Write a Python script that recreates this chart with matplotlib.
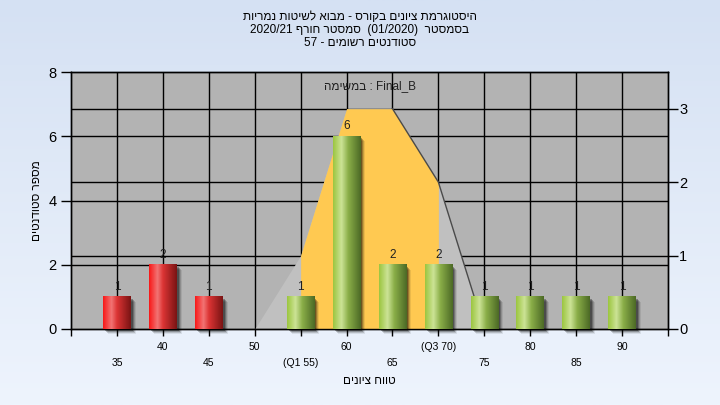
import numpy as np
import matplotlib
matplotlib.use('Agg')
import matplotlib.pyplot as plt
from matplotlib.colors import LinearSegmentedColormap
from matplotlib.patches import Rectangle
from matplotlib import transforms

plt.rcParams['font.family'] = ['Liberation Sans', 'DejaVu Sans']

# histogram data
grades = [35, 40, 45, 50, 55, 60, 65, 70, 75, 80, 85, 90]
counts = [1, 2, 1, 0, 1, 6, 2, 2, 1, 1, 1, 1]
pass_grade = 50

# distribution curve (right axis)
curve_x = [50, 55, 60, 65, 70, 75]
curve_y = [0, 1, 3, 3, 2, 0]
q1, q3 = 55, 70

row1_ticks = [40, 50, 60, 70, 80, 90]
row1_labels = ['40', '50', '60', '(Q3 70)', '80', '90']
row2_ticks = [35, 45, 55, 65, 75, 85]
row2_labels = ['35', '45', '(Q1 55)', '65', '75', '85']


def heb(s):
    # matplotlib has no bidi, so hebrew runs are given in visual order
    return s[::-1]


title1 = heb('היסטוגרמת ציונים בקורס - מבוא לשיטות נמריות')
title2 = '2020/21 ' + heb('סמסטר חורף') + '  (01/2020)  ' + heb('בסמסטר')
title3 = '57 - ' + heb('סטודנטים רשומים')
legend_text = heb('במשימה') + ' : Final_B'
xlabel = heb('טווח ציונים')
ylabel = heb('מספר סטודנטים')

fig = plt.figure(figsize=(7.2, 4.05), dpi=100)

# background gradient
bg = fig.add_axes([0, 0, 1, 1], zorder=-10)
bg_cmap = LinearSegmentedColormap.from_list('bg', ['#d5e1f3', '#eef4fd'])
bg.imshow(np.linspace(0, 1, 256).reshape(-1, 1), aspect='auto', cmap=bg_cmap,
          extent=[0, 1, 0, 1])
bg.axis('off')

ax = fig.add_axes([71 / 720, 1 - 329 / 405, 597 / 720, 257 / 405])
ax2 = ax.twinx()
ax.set_zorder(ax2.get_zorder() + 1)
ax.patch.set_visible(False)
ax2.patch.set_visible(True)
ax2.patch.set_facecolor('#b3b3b3')

ax.set_xlim(30, 95)
ax.set_ylim(0, 8)
ax2.set_ylim(0, 3.5)

# grid under the curve
ax2.vlines(grades, 0, 3.5, color='black', lw=1, zorder=1)
ax2.hlines([1, 2, 3], 30, 95, color='black', lw=1, zorder=1)
ax2.hlines([2, 4, 6], 30, 95, color='black', lw=1, zorder=1, transform=ax.transData)

cx = np.array(curve_x)
cy = np.array(curve_y)
ax2.fill_between(cx, cy, color='#c0c0c0', lw=0, zorder=2)
ax2.fill_between(cx, cy, where=(cx >= q1) & (cx <= q3), color='#ffc951', lw=0, zorder=3)
ax2.plot(cx[cx >= 65], cy[cx >= 65], color='#4a4a4a', lw=1, zorder=4)
ax2.set_ylim(0, 3.5)

red_cmap = LinearSegmentedColormap.from_list(
    'r', [(0, '#f81818'), (0.3, '#f27474'), (0.5, '#dc3434'), (1, '#7a1414')])
green_cmap = LinearSegmentedColormap.from_list(
    'g', [(0, '#9cc640'), (0.3, '#cce396'), (0.55, '#8aae48'), (1, '#4c6a26')])
grad = np.linspace(0, 1, 64).reshape(1, -1)

width = 3
for g, c in zip(grades, counts):
    if c == 0:
        continue
    x0 = g - width / 2
    for k, a in [(2, 0.3), (3, 0.22), (4, 0.15), (5, 0.08)]:
        tr = transforms.offset_copy(ax.transData, fig=fig, x=k, y=-k, units='dots')
        ax.add_patch(Rectangle((x0, 0), width, c, transform=tr, color='black',
                               alpha=a, lw=0, zorder=2, clip_on=False))
    cmap = red_cmap if g < pass_grade else green_cmap
    ax.imshow(grad, cmap=cmap, aspect='auto', extent=[x0, x0 + width, 0, c],
              zorder=3, interpolation='bilinear')
    ax.annotate(str(c), (g, c), xytext=(0, 3), textcoords='offset points',
                ha='center', va='bottom', fontsize=8.5, color='#202020', zorder=5)

ax.set_xlim(30, 95)
ax.set_ylim(0, 8)

ax.text(0.5, 0.945, legend_text, transform=ax.transAxes, ha='center', va='center',
        fontsize=8.5, color='#202020')

# ticks
ax.set_yticks([0, 2, 4, 6, 8])
ax.tick_params(axis='y', labelsize=10.5, length=7, width=1, colors='black')
ax2.set_yticks([0, 1, 2, 3])
ax2.tick_params(axis='y', labelsize=10.5, length=7, width=1, colors='black', pad=1)
ax.set_xticks([30] + row1_ticks + [95])
ax.set_xticklabels([''] + row1_labels + [''])
ax.set_xticks(row2_ticks, minor=True)
ax.set_xticklabels(row2_labels, minor=True)
ax.tick_params(axis='x', which='major', labelsize=7.5, length=5, width=1, pad=4)
ax.tick_params(axis='x', which='minor', labelsize=7.5, length=5, width=1, pad=16)

for a in (ax, ax2):
    for s in a.spines.values():
        s.set_color('black')
        s.set_linewidth(1)

ax.set_xlabel(xlabel, fontsize=8.5, labelpad=5)
ax.set_ylabel(ylabel, fontsize=8.5, labelpad=4)

fig.text(0.5, 1 - 17 / 405, title1, ha='center', va='center', fontsize=8.5)
fig.text(0.5, 1 - 30 / 405, title2, ha='center', va='center', fontsize=8.5)
fig.text(0.5, 1 - 43 / 405, title3, ha='center', va='center', fontsize=8.5)

fig.savefig('out.png', dpi=100)
